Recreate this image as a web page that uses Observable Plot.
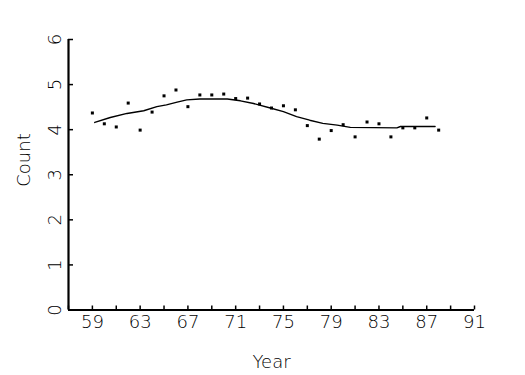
<!DOCTYPE html>
<html>
<head>
<meta charset="utf-8">
<script src="https://cdn.jsdelivr.net/npm/d3@7"></script>
<script src="https://cdn.jsdelivr.net/npm/@observablehq/plot@0.6"></script>
<style>
  html, body { margin: 0; padding: 0; background: #fff; }
</style>
</head>
<body>
<div id="chart"></div>
<script>
const years = [59,60,61,62,63,64,65,66,67,68,69,70,71,72,73,74,75,76,77,78,79,80,81,82,83,84,85,86,87,88];
const counts = [4.37,4.13,4.06,4.59,3.99,4.39,4.75,4.88,4.51,4.77,4.77,4.79,4.69,4.70,4.57,4.48,4.53,4.44,4.09,3.79,3.98,4.11,3.84,4.17,4.13,3.84,4.04,4.04,4.26,3.99];
const fitYears = [59.2,60.5,61.9,63.3,64.4,65.2,66.1,66.9,68,70.3,71.4,72.5,73.9,75,76.1,77.2,78.3,79.5,80.6,84.5,84.8,87.7];
const fitCounts = [4.16,4.27,4.36,4.42,4.51,4.55,4.61,4.66,4.68,4.68,4.64,4.58,4.48,4.40,4.29,4.21,4.14,4.10,4.05,4.04,4.07,4.07];
const xTicks = [57,59,61,63,65,67,69,71,73,75,77,79,81,83,85,87,89,91];
const xLabels = [59,63,67,71,75,79,83,87,91];
const yTicks = [0,1,2,3,4,5,6];
const xDomain = [57, 91];
const yDomain = [0, 6];

const points = years.map((y, i) => ({year: y, count: counts[i]}));
const fit = fitYears.map((y, i) => ({year: y, count: fitCounts[i]}));

const chart = Plot.plot({
  width: 525,
  height: 375,
  marginLeft: 68,
  marginRight: 51,
  marginTop: 39,
  marginBottom: 65.5,
  style: {fontFamily: "'DejaVu Sans', sans-serif", fontSize: "18px", fontWeight: 200, color: "#000", background: "#fff"},
  x: {domain: xDomain},
  y: {domain: yDomain},
  marks: [
    Plot.axisX({ticks: xTicks, tickSize: -4, text: null, label: null, strokeWidth: 1.5}),
    Plot.axisX({ticks: xLabels, tickSize: 0, tickPadding: 5, label: null, tickFormat: d => String(d), letterSpacing: 1.5, fill: "#000"}),
    Plot.axisY({ticks: yTicks, tickSize: -5, text: null, label: null, strokeWidth: 1.5}),
    Plot.axisY({ticks: yTicks, tickSize: 0, tickPadding: 8, tickRotate: -90, label: null, tickFormat: d => String(d), fill: "#000"}),
    Plot.ruleX([xDomain[0]], {strokeWidth: 2.2}),
    Plot.ruleY([yDomain[0]], {strokeWidth: 2.2}),
    Plot.line(fit, {x: "year", y: "count", stroke: "#000", strokeWidth: 1.4}),
    Plot.dot(points, {x: "year", y: "count", symbol: "square", r: 1.7, fill: "#000", stroke: null}),
    Plot.text(["Year"], {frameAnchor: "bottom", dy: 58, text: d => d, letterSpacing: 2, fill: "#000"}),
    Plot.text(["Count"], {frameAnchor: "left", dx: -44, dy: 12, rotate: -90, text: d => d, letterSpacing: 2, fill: "#000"})
  ]
});
document.getElementById("chart").appendChild(chart);
</script>
</body>
</html>
